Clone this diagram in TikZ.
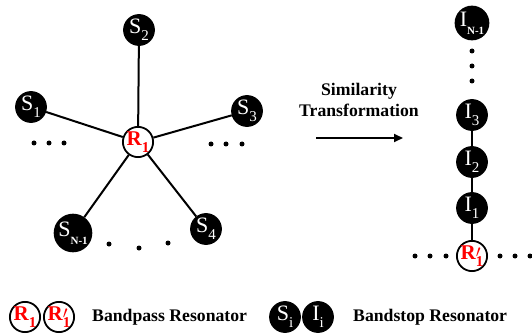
\documentclass[tikz,border=0pt]{standalone}
\usepackage{fontspec}
\setmainfont{Liberation Serif}
\usetikzlibrary{arrows.meta}
\newcommand\subs[1]{\raisebox{-0.3em}{\fontsize{15}{15}\selectfont #1}}
\newcommand\subsm[1]{\raisebox{-0.35em}{\fontsize{11}{11}\selectfont\bfseries #1}}
\newcommand\rprime{R\makebox[0pt][l]{\raisebox{0.1em}{\fontsize{16}{16}\selectfont$\prime$}}\subs{1}}
\begin{document}
\begin{tikzpicture}[x=1pt,y=1pt,
 bs/.style={circle,fill=black,draw=black,line width=1.8pt,minimum size=30pt,inner sep=0pt,text=white,font=\fontsize{22}{22}\selectfont},
 bp/.style={circle,fill=white,draw=black,line width=1.8pt,minimum size=30pt,inner sep=0pt,text=red,font=\fontsize{21}{21}\selectfont\bfseries},
 conn/.style={line width=2pt},
 dot/.style={circle,fill=black,inner sep=0pt,minimum size=5pt},
 lbl/.style={font=\fontsize{17.7}{21}\selectfont\bfseries,align=center,inner sep=0pt}]
\useasboundingbox (0,0) rectangle (532,335);
% star
\node[bp] (R1) at (138,193) {R\subs{1}};
\node[bs] (S2) at (139,305) {S\subs{2}};
\node[bs] (S1) at (31,228) {S\subs{1}};
\node[bs] (S3) at (247,224) {S\subs{3}};
\node[bs] (SN) at (73,102) {S\subsm{N-1}};
\node[bs] (S4) at (206,106) {S\subs{4}};
\draw[conn] (R1) -- (S2);
\draw[conn] (R1) -- (S1);
\draw[conn] (R1) -- (S3);
\draw[conn] (R1) -- (SN);
\draw[conn] (R1) -- (S4);
\node[dot] (dl1) at (34,192) {};
\node[dot] (dl2) at (49,192) {};
\node[dot] (dl3) at (64,192) {};
\node[dot] (dr1) at (211,191) {};
\node[dot] (dr2) at (226,191) {};
\node[dot] (dr3) at (242,191) {};
\node[dot] (db1) at (109,91) {};
\node[dot] (db2) at (139,87) {};
\node[dot] (db3) at (168,92) {};
% transformation
\node[lbl] (txt) at (359,235) {Similarity\\Transformation};
\coordinate (a1) at (316,197);
\coordinate (a2) at (403,197);
\draw[line width=2pt,-{Triangle[length=9pt,width=8pt]}] (a1) -- (a2);
% chain
\node[bs] (IN) at (472,312) {I\subsm{N-1}};
\node[dot] (dv1) at (472,284) {};
\node[dot] (dv2) at (472,269) {};
\node[dot] (dv3) at (472,254) {};
\node[bs] (I3) at (472,220) {I\subs{3}};
\node[bs] (I2) at (472,173) {I\subs{2}};
\node[bs] (I1) at (472,127) {I\subs{1}};
\node[bp] (Rp) at (472,79) {\rprime};
\draw[conn] (I3) -- (I2);
\draw[conn] (I2) -- (I1);
\draw[conn] (I1) -- (Rp);
\node[dot] (h1) at (415,79) {};
\node[dot] (h2) at (430,79) {};
\node[dot] (h3) at (446,79) {};
\node[dot] (h4) at (500,79) {};
\node[dot] (h5) at (515,79) {};
\node[dot] (h6) at (530,79) {};
% legend
\node[bp] (L1) at (25,18) {R\subs{1}};
\node[bp] (L2) at (59,18) {\rprime};
\node[lbl,anchor=west] (T1) at (92,18) {Bandpass Resonator};
\node[bs] (L3) at (285,18) {S\subs{i}};
\node[bs] (L4) at (318,18) {I\subs{i}};
\node[lbl,anchor=west] (T2) at (353,18) {Bandstop Resonator};
\end{tikzpicture}
\end{document}
